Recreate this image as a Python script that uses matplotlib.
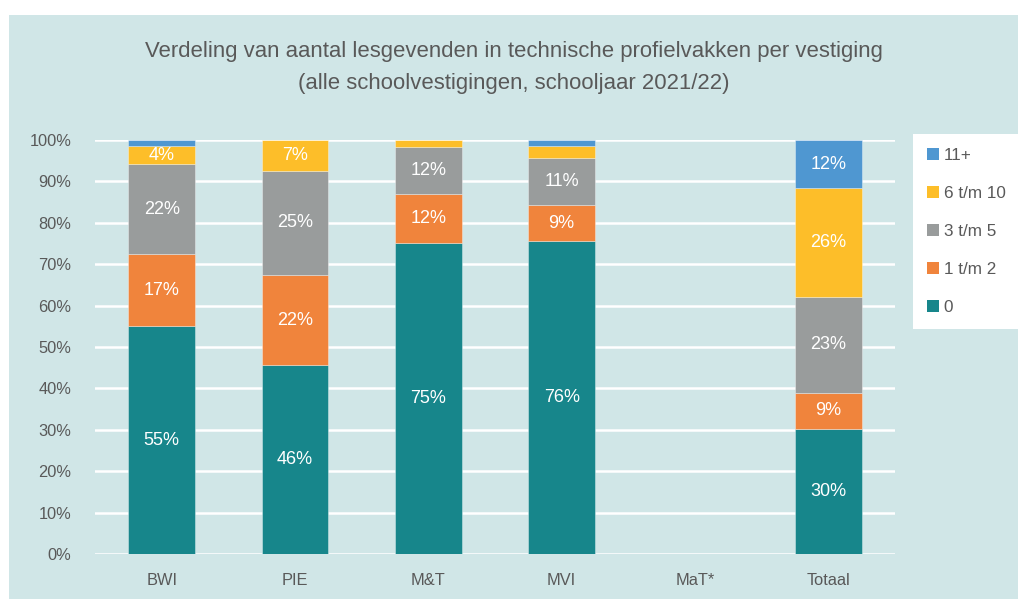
import numpy as np
import matplotlib
matplotlib.use('Agg')
import matplotlib.pyplot as plt
from matplotlib.patches import Rectangle, Patch

plt.rcParams['font.family'] = ['Liberation Sans', 'DejaVu Sans']

# Data (share of school locations, %)
categories = ['BWI', 'PIE', 'M&T', 'MVI', 'MaT*', 'Totaal']
series_names = ['0', '1 t/m 2', '3 t/m 5', '6 t/m 10', '11+']
v_0 = [55.0, 45.6, 75.1, 75.6, 0, 30.2]
v_1_2 = [17.4, 21.8, 11.8, 8.6, 0, 8.7]
v_3_5 = [21.8, 25.2, 11.5, 11.4, 0, 23.2]
v_6_10 = [4.3, 7.4, 1.6, 2.9, 0, 26.3]
v_11 = [1.5, 0.0, 0.0, 1.5, 0, 11.6]
colors = ['#17868B', '#F0843C', '#999C9C', '#FDBE29', '#4F97D1']

panel_col = '#D0E6E7'
text_col = '#595959'

fig = plt.figure(figsize=(10.18, 5.99), dpi=100, facecolor='white')
fig.patches.append(Rectangle((9 / 1018, 0), 1 - 9 / 1018, 1 - 15 / 599,
                             transform=fig.transFigure, facecolor=panel_col,
                             edgecolor='none', zorder=-10))

ax = fig.add_axes([95 / 1018, 1 - 554 / 599, 800 / 1018, 414 / 599])
ax.set_facecolor('none')

x = np.arange(len(categories))
bottom = np.zeros(len(categories))
all_series = [v_0, v_1_2, v_3_5, v_6_10, v_11]
for name, vals, col in zip(series_names, all_series, colors):
    vals = np.array(vals) / 100
    ax.bar(x, vals, width=0.5, bottom=bottom, color=col, label=name,
           edgecolor=(1, 1, 1, 0.35), linewidth=0.7, zorder=3)
    for xi, b, v in zip(x, bottom, vals):
        if v * 100 >= 3:
            ax.text(xi, b + v / 2, f"{round(v * 100)}%", ha='center', va='center',
                    color='white', fontsize=13, zorder=4)
    bottom += vals

ax.set_xlim(-0.5, len(categories) - 0.5)
ax.set_ylim(0, 1)
ax.set_yticks(np.arange(0, 1.01, 0.1))
ax.set_yticklabels([f"{int(round(t * 100))}%" for t in np.arange(0, 1.01, 0.1)])
ax.set_xticks(x)
ax.set_xticklabels(categories)
ax.tick_params(axis='y', length=0, pad=17, labelsize=11.8, labelcolor=text_col)
ax.tick_params(axis='x', length=0, pad=14, labelsize=11.8, labelcolor=text_col)
ax.grid(axis='y', color='white', linewidth=1.8, zorder=1)
ax.set_axisbelow(True)
for s in ax.spines.values():
    s.set_visible(False)

fig.text(514 / 1018, 1 - 52 / 599, 'Verdeling van aantal lesgevenden in technische profielvakken per vestiging',
         ha='center', va='center', fontsize=15.9, color=text_col)
fig.text(514 / 1018, 1 - 83 / 599, '(alle schoolvestigingen, schooljaar 2021/22)',
         ha='center', va='center', fontsize=15.9, color=text_col)

handles = [Patch(facecolor=c, edgecolor='none') for c in colors][::-1]
leg = fig.legend(handles, series_names[::-1], loc='upper left',
                 bbox_to_anchor=(913 / 1018, 1 - 134 / 599), frameon=True, framealpha=1,
                 fontsize=12.3, labelspacing=1.35, handlelength=0.7, handleheight=0.7,
                 handletextpad=0.3, borderpad=0.8, borderaxespad=0)
leg.get_frame().set_facecolor('white')
leg.get_frame().set_edgecolor('none')
leg.get_frame().set_boxstyle('square', pad=0)
for t in leg.get_texts():
    t.set_color(text_col)

fig.savefig('out.png', dpi=100, facecolor='white')
